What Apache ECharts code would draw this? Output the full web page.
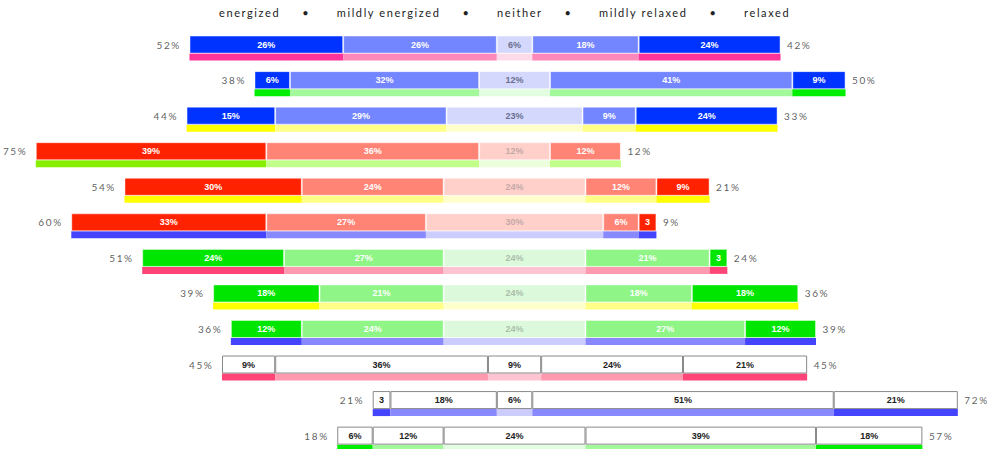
<!DOCTYPE html>
<html>
<head>
<meta charset="utf-8">
<script src="https://cdn.jsdelivr.net/npm/echarts@6/dist/echarts.min.js"></script>
<style>
  html, body { margin: 0; padding: 0; background: #fff; }
  #chart { width: 990px; height: 449px; }
  #chart svg text[style*="Lato"] { letter-spacing: 1.6px; }
</style>
</head>
<body>
<div id="chart"></div>
<script>
// ---- data ----
const rows = ['r1','r2','r3','r4','r5','r6','r7','r8','r9','r10','r11','r12'];
const energized       = [26, 6, 15, 39, 30, 33, 24, 18, 12,  9,  3,  6];
const mildlyEnergized = [26, 32, 29, 36, 24, 27, 27, 21, 24, 36, 18, 12];
const neither         = [ 6, 12, 23, 12, 24, 30, 24, 24, 24,  9,  6, 24];
const mildlyRelaxed   = [18, 41,  9, 12, 12,  6, 21, 18, 27, 24, 51, 39];
const relaxed         = [24,  9, 24,  0,  9,  3,  3, 18, 12, 21, 21, 18];
const leftTotals      = [52, 38, 44, 75, 54, 60, 51, 39, 36, 45, 21, 18];
const rightTotals     = [42, 50, 33, 12, 21,  9, 24, 36, 39, 45, 72, 57];
const categoryNames   = ['energized', 'mildly energized', 'neither', 'mildly relaxed', 'relaxed'];
const mainTheme  = ['blue','blue','blue','red','red','red','green','green','green','white','white','white'];
const underTheme = ['pinkA','green','yellow','lime','yellow','blue','pinkB','yellow','blue','pinkB','blue','green'];

// ---- styles ----
const mainPalettes = {
  blue:  ['#0033ff', '#7385ff', '#d3d8fc', '#7385ff', '#0033ff'],
  red:   ['#ff2200', '#ff8475', '#ffd0ca', '#ff8475', '#ff2200'],
  green: ['#00e600', '#8ef586', '#dcfadb', '#8ef586', '#00e600'],
  white: ['#ffffff', '#ffffff', '#ffffff', '#ffffff', '#ffffff']
};
const neitherText = { blue: '#6a6f90', red: '#c4a9a6', green: '#aabdaa', white: '#222' };
const underPalettes = {
  pinkA:  ['#ff3399', '#ff88bb', '#ffdbe9', '#ff88bb', '#ff3399'],
  pinkB:  ['#ff4477', '#ff99b0', '#ffc4d2', '#ff99b0', '#ff4477'],
  green:  ['#00ee00', '#a2f89a', '#e2fde0', '#a2f89a', '#00ee00'],
  yellow: ['#ffff00', '#ffff88', '#ffffcc', '#ffff88', '#ffff00'],
  lime:   ['#88ee00', '#c2ff88', '#ebffdd', '#c2ff88', '#88ee00'],
  blue:   ['#4444ff', '#8888ff', '#ccccff', '#8888ff', '#4444ff']
};

const CENTER = 87.06;       // value at the visual centre line
const AXIS_MAX = 167.5;
const BAND = 35.55;
const MAIN_TOP = 26.8;
const UNDER_TOP = 39.3;

const segs = [energized, mildlyEnergized, neither, mildlyRelaxed, relaxed];
const offset = rows.map((_, i) => CENTER - energized[i] - mildlyEnergized[i] - neither[i] / 2);
const rowEnd = rows.map((_, i) => offset[i] + segs.reduce((s, a) => s + a[i], 0));

function fmt(v) { return v <= 3 ? String(v) : v + '%'; }

const series = [];
// main bars
series.push({
  type: 'bar', stack: 'main', xAxisIndex: 0, yAxisIndex: 0, barWidth: 18, silent: true,
  itemStyle: { color: 'transparent' }, data: offset
});
segs.forEach((arr, k) => {
  series.push({
    name: categoryNames[k],
    type: 'bar', stack: 'main', xAxisIndex: 0, yAxisIndex: 0, barWidth: 18, z: 3,
    data: arr.map((v, i) => {
      const th = mainTheme[i];
      const white = th === 'white';
      return {
        value: v,
        itemStyle: {
          color: mainPalettes[th][k],
          borderColor: white ? '#8a8a8a' : 'rgba(255,255,255,0.45)',
          borderWidth: 1
        },
        label: {
          show: v > 0,
          color: white ? '#222' : (k === 2 ? neitherText[th] : '#ffffff')
        }
      };
    }),
    label: {
      position: 'inside', fontFamily: 'Liberation Sans', fontWeight: 'bold', fontSize: 9,
      formatter: p => fmt(p.value)
    }
  });
});
// underline bars
series.push({
  type: 'bar', stack: 'under', xAxisIndex: 1, yAxisIndex: 1, barWidth: 7, silent: true,
  itemStyle: { color: 'transparent' }, data: offset
});
segs.forEach((arr, k) => {
  series.push({
    type: 'bar', stack: 'under', xAxisIndex: 1, yAxisIndex: 1, barWidth: 7, z: 2, silent: true,
    data: arr.map((v, i) => ({ value: v, itemStyle: { color: underPalettes[underTheme[i]][k] } }))
  });
});
// outside total labels
series.push({
  type: 'scatter', xAxisIndex: 0, yAxisIndex: 0, symbolSize: 1, silent: true,
  itemStyle: { color: 'transparent' },
  data: rows.map((r, i) => ({ value: [offset[i], r], total: leftTotals[i] })),
  label: { show: true, position: 'left', distance: 8, fontFamily: 'Lato', fontSize: 10, color: '#333',
           formatter: p => p.data.total + '%' }
});
series.push({
  type: 'scatter', xAxisIndex: 0, yAxisIndex: 0, symbolSize: 1, silent: true,
  itemStyle: { color: 'transparent' },
  data: rows.map((r, i) => ({ value: [rowEnd[i], r], total: rightTotals[i] })),
  label: { show: true, position: 'right', distance: 6, fontFamily: 'Lato', fontSize: 10, color: '#333',
           formatter: p => p.data.total + '%' }
});

const chart = echarts.init(document.getElementById('chart'), null, { renderer: 'svg' });
chart.setOption({
  animation: false,
  backgroundColor: '#ffffff',
  title: {
    text: categoryNames.join('     \u2022      '),
    left: 214, top: 2,
    textStyle: { fontFamily: 'Lato', fontSize: 11, fontWeight: 'normal', color: '#222' }
  },
  grid: [
    { left: 0, right: 0, top: MAIN_TOP, height: BAND * rows.length, outerBoundsMode: 'none', containLabel: false },
    { left: 0, right: 0, top: UNDER_TOP, height: BAND * rows.length, outerBoundsMode: 'none', containLabel: false }
  ],
  xAxis: [
    { type: 'value', min: 0, max: AXIS_MAX, show: false, gridIndex: 0 },
    { type: 'value', min: 0, max: AXIS_MAX, show: false, gridIndex: 1 }
  ],
  yAxis: [
    { type: 'category', data: rows, inverse: true, show: false, gridIndex: 0 },
    { type: 'category', data: rows, inverse: true, show: false, gridIndex: 1 }
  ],
  series: series
});
</script>
</body>
</html>
